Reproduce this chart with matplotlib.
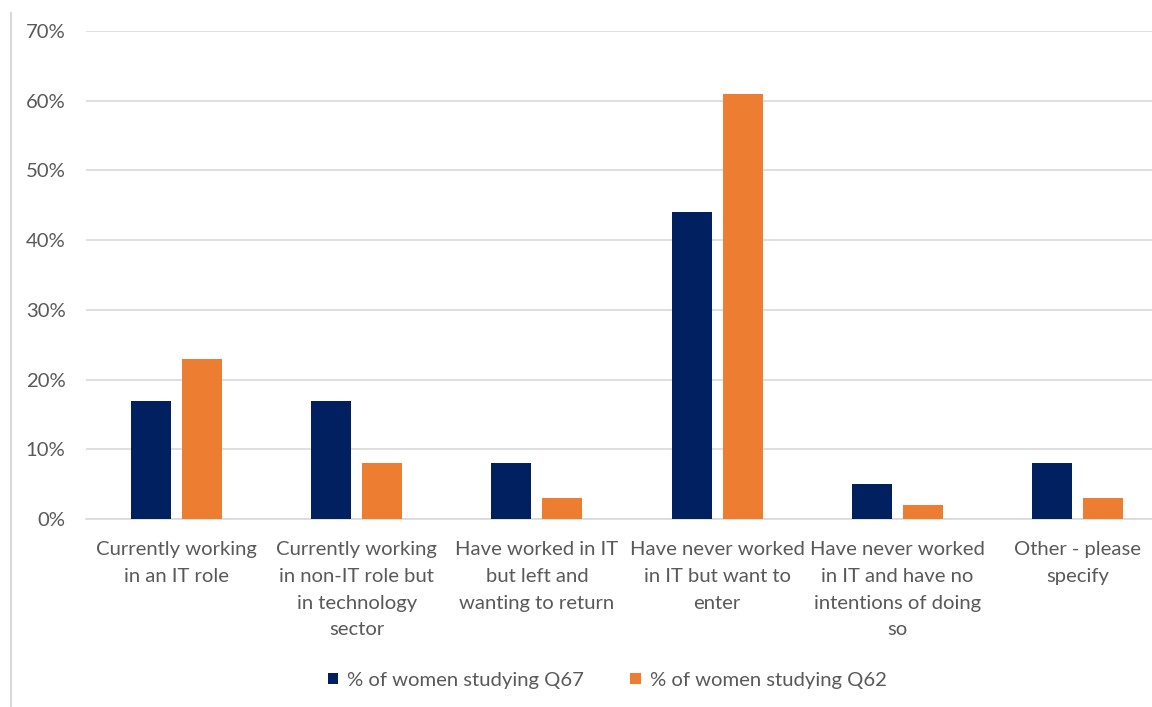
import numpy as np
import matplotlib.pyplot as plt
from matplotlib.lines import Line2D
from matplotlib.ticker import PercentFormatter

categories = [
    "Currently working\nin an IT role",
    "Currently working\nin non-IT role but\nin technology\nsector",
    "Have worked in IT\nbut left and\nwanting to return",
    "Have never worked\nin IT but want to\nenter",
    "Have never worked\nin IT and have no\nintentions of doing\nso",
    "Other - please\nspecify",
]
q67 = [0.17, 0.17, 0.08, 0.44, 0.05, 0.08]
q62 = [0.23, 0.08, 0.03, 0.61, 0.02, 0.03]
series_names = ["% of women studying Q67", "% of women studying Q62"]

navy = "#002060"
orange = "#ED7D31"
text_grey = "#595959"
grid_grey = "#D9D9D9"
fs = 14.6

plt.rcParams['font.family'] = ['Lato', 'DejaVu Sans']

fig = plt.figure(figsize=(11.52, 7.07), dpi=100)
# plot area runs slightly past the right edge, gridlines get clipped there
ax = fig.add_axes([0.075, 0.2659, 0.9385, 0.6902])

x = np.arange(len(categories))
w = 0.222
gap = 0.061
ax.bar(x - (w + gap) / 2, q67, w, color=navy, label=series_names[0], zorder=3)
ax.bar(x + (w + gap) / 2, q62, w, color=orange, label=series_names[1], zorder=3)

ax.set_xlim(-0.5, len(categories) - 0.5)
ax.set_ylim(0, 0.7)
ax.set_yticks(np.arange(0, 0.71, 0.1))
ax.yaxis.set_major_formatter(PercentFormatter(1.0, decimals=0))
ax.grid(axis='y', color=grid_grey, lw=1.2, zorder=0)

ax.set_xticks(x)
ax.set_xticklabels(categories, linespacing=1.69)
ax.tick_params(axis='x', length=0, pad=16, labelsize=fs, labelcolor=text_grey)
ax.tick_params(axis='y', length=0, pad=15, labelsize=fs, labelcolor=text_grey)

for side in ['top', 'right', 'left']:
    ax.spines[side].set_visible(False)
ax.spines['bottom'].set_color(grid_grey)
ax.spines['bottom'].set_linewidth(1.2)

leg = fig.legend(loc='center', bbox_to_anchor=(0.527, 0.038), ncol=2, frameon=False,
                 fontsize=fs, handlelength=0.5, handleheight=0.5,
                 handletextpad=0.45, columnspacing=2.3)
for t in leg.get_texts():
    t.set_color(text_grey)

# thin frame edge on the left
fig.add_artist(Line2D([0.0095, 0.0095], [0.0, 0.982], color=grid_grey, lw=1.5,
                      transform=fig.transFigure))

fig.savefig('out.png', dpi=100)
